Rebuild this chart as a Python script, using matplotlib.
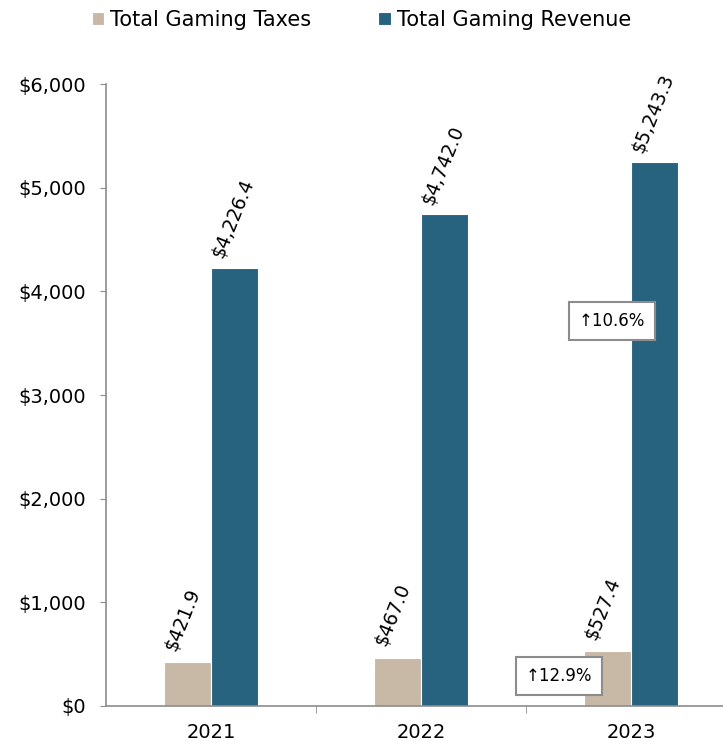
import matplotlib.pyplot as plt
import numpy as np

years = ["2021", "2022", "2023"]
taxes = [421.9, 467.0, 527.4]
revenue = [4226.4, 4742.0, 5243.3]
tax_labels = ["$421.9", "$467.0", "$527.4"]
rev_labels = ["$4,226.4", "$4,742.0", "$5,243.3"]

tax_color = "#C8B9A7"
rev_color = "#27637F"

plt.rcParams["font.family"] = "DejaVu Sans"

fig = plt.figure(figsize=(7.23, 7.42), dpi=100)
ax = fig.add_axes([106 / 723, 36 / 742, 630 / 723, 622 / 742])

x = np.arange(len(years))
w = 0.224
ax.bar(x - w / 2, taxes, w, color=tax_color, edgecolor="white", linewidth=0.8,
       label="Total Gaming Taxes")
ax.bar(x + w / 2, revenue, w, color=rev_color, edgecolor="white", linewidth=0.8,
       label="Total Gaming Revenue")

# rotated value labels starting at the left edge of each bar
for i in range(len(years)):
    ax.text(x[i] - w + 0.075, taxes[i] + 90, tax_labels[i], rotation=68,
            ha="left", va="bottom", fontsize=13.5, rotation_mode="anchor")
    ax.text(x[i] + 0.075, revenue[i] + 70, rev_labels[i], rotation=68,
            ha="left", va="bottom", fontsize=13.5, rotation_mode="anchor")

# growth callouts
box = dict(boxstyle="square,pad=0.6", facecolor="white", edgecolor="#8C8C8C", linewidth=1.5)
ax.text(1.91, 3714, "\u219110.6%", ha="center", va="center", fontsize=12, bbox=box)
ax.text(1.657, 289, "\u219112.9%", ha="center", va="center", fontsize=12, bbox=box)

ax.set_xlim(-0.5, 2.5)
ax.set_ylim(0, 6000)
ax.set_yticks(np.arange(0, 6001, 1000))
ax.set_yticklabels(["$0", "$1,000", "$2,000", "$3,000", "$4,000", "$5,000", "$6,000"])
ax.set_xticks(x)
ax.set_xticklabels(years)
ax.set_xticks([0.5, 1.5], minor=True)
ax.tick_params(axis="x", which="major", length=0, labelsize=14, pad=12)
ax.tick_params(axis="x", which="minor", length=5, color="#8C8C8C")
ax.tick_params(axis="y", length=4.5, color="#8C8C8C", labelsize=14, pad=10)

for s in ["top", "right"]:
    ax.spines[s].set_visible(False)
for s in ["left", "bottom"]:
    ax.spines[s].set_color("#8C8C8C")
    ax.spines[s].set_linewidth(1.2)

fig.legend(loc="upper center", bbox_to_anchor=(0.5, 1.012), ncol=2, frameon=False,
           fontsize=15, handlelength=0.6, handleheight=0.6, handletextpad=0.3,
           columnspacing=3.2)

fig.savefig("out.png", dpi=100)
